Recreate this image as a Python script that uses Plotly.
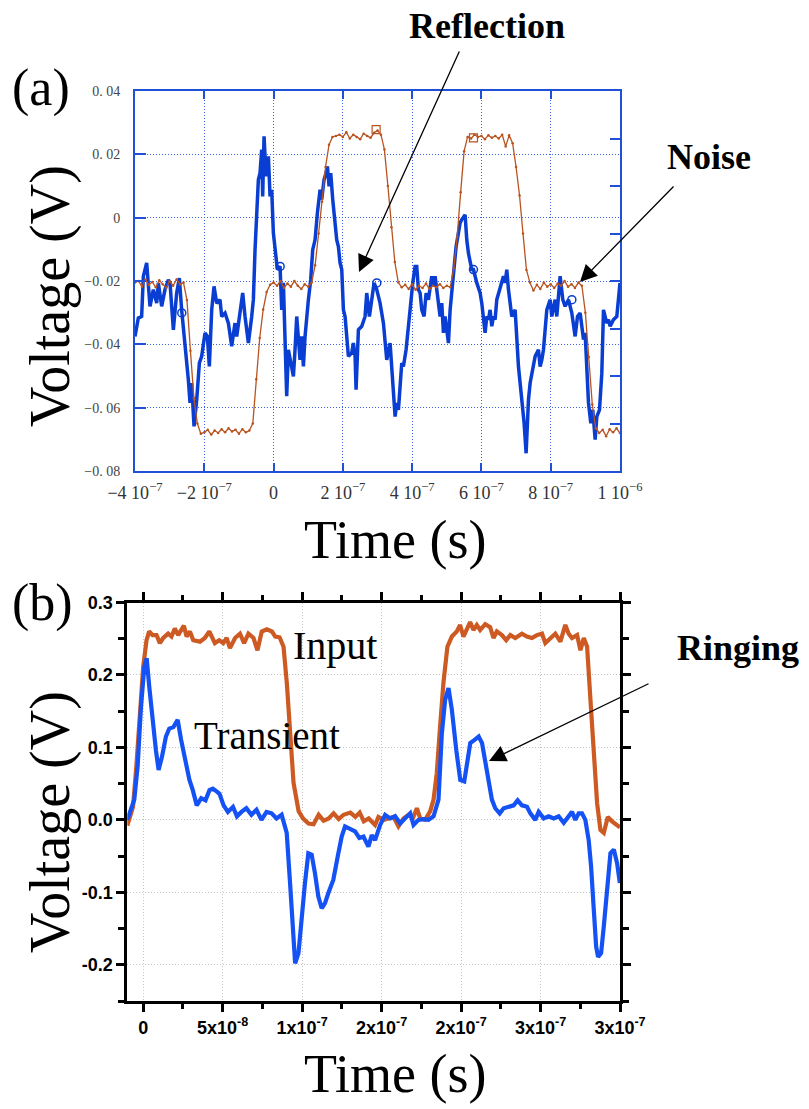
import plotly.graph_objects as go

W, H = 809, 1109


def fx(x):
    return x / W


def fy(y):
    return 1 - y / H


# ---------------- Panel (a) data (time in ns, voltage in V) ----------------
a_brown_t_ns = list(range(-400, 1001, 10))
a_brown_v = [
    -0.0205, -0.0200, -0.0218, -0.0195, -0.0212, -0.0203, -0.0220, -0.0198, -0.0210, -0.0222,
    -0.0200, -0.0215, -0.0195, -0.0210, -0.0205, -0.0260, -0.0420, -0.0570, -0.0650, -0.0682,
    -0.0678, -0.0670, -0.0685, -0.0672, -0.0680, -0.0668, -0.0678, -0.0665, -0.0675, -0.0670,
    -0.0682, -0.0668, -0.0678, -0.0672, -0.0650, -0.0510, -0.0380, -0.0290, -0.0235, -0.0212,
    -0.0205, -0.0215, -0.0200, -0.0222, -0.0208, -0.0218, -0.0200, -0.0215, -0.0225, -0.0210,
    -0.0218, -0.0205, -0.0150, -0.0050, 0.0050, 0.0160, 0.0230, 0.0255, 0.0258, 0.0262,
    0.0255, 0.0270, 0.0250, 0.0262, 0.0255, 0.0248, 0.0265, 0.0258, 0.0252, 0.0268,
    0.0275, 0.0262, 0.0215, 0.0100, -0.0030, -0.0140, -0.0205, -0.0220, -0.0212, -0.0225,
    -0.0210, -0.0228, -0.0215, -0.0222, -0.0208, -0.0225, -0.0215, -0.0220, -0.0210, -0.0222,
    -0.0215, -0.0220, -0.0160, -0.0060, 0.0080, 0.0210, 0.0255, 0.0250, 0.0262, 0.0255,
    0.0258, 0.0248, 0.0260, 0.0252, 0.0258, 0.0250, 0.0262, 0.0225, 0.0260, 0.0235,
    0.0160, 0.0070, -0.0050, -0.0165, -0.0205, -0.0230, -0.0212, -0.0225, -0.0205, -0.0218,
    -0.0210, -0.0222, -0.0208, -0.0215, -0.0200, -0.0218, -0.0210, -0.0222, -0.0205, -0.0215,
    -0.0300, -0.0440, -0.0590, -0.0665, -0.0680, -0.0670, -0.0690, -0.0668, -0.0678, -0.0665,
    -0.0680,
]

a_blue_t_ns = [
    -400, -390.4, -380.8, -375.9, -366.3, -356.7, -347.1, -337.4, -332.6, -323.0,
    -313.4, -303.8, -298.9, -289.3, -279.7, -272.0, -265.3, -255.6, -246.0, -241.2,
    -236.4, -229.6, -221.9, -214.2, -207.5, -197.9, -191.1, -185.4, -178.6, -171.9,
    -164.2, -154.6, -149.8, -140.1, -130.5, -120.9, -111.3, -106.4, -96.8, -89.1,
    -82.4, -72.7, -63.1, -58.3, -53.5, -43.9, -39.1, -34.3, -31.4, -27.5,
    -21.7, -15.0, -10.2, -5.4, -0.6, 4.3, 11.0, 18.7, 23.5, 28.3,
    33.1, 37.9, 42.8, 49.5, 57.2, 62.0, 66.8, 76.4, 81.3, 86.1,
    90.9, 100.5, 107.2, 113.0, 119.8, 126.5, 134.2, 139.0, 145.7, 151.5,
    155.4, 160.2, 165.0, 170.8, 177.5, 182.3, 187.1, 191.9, 196.8, 201.6,
    206.4, 211.2, 216.0, 225.6, 230.4, 235.3, 238.1, 244.9, 254.5, 264.1,
    268.9, 276.6, 283.4, 290.1, 297.8, 307.4, 317.1, 326.7, 336.3, 341.1,
    345.9, 350.8, 355.6, 360.4, 370.0, 374.8, 382.5, 389.3, 394.1, 401.8,
    408.5, 413.3, 418.1, 423.0, 427.8, 434.5, 440.3, 447.0, 456.6, 461.4,
    466.3, 475.9, 480.7, 485.5, 490.3, 495.1, 499.9, 504.8, 509.6, 514.4,
    519.2, 526.9, 533.6, 538.4, 543.3, 548.1, 552.9, 557.7, 562.5, 572.1,
    577.0, 586.6, 596.2, 601.0, 605.8, 610.6, 615.4, 620.3, 625.1, 629.9,
    634.7, 639.5, 644.3, 653.9, 663.6, 668.4, 673.2, 678.0, 687.6, 697.3,
    706.9, 716.5, 723.2, 729.0, 735.8, 740.6, 750.2, 755.0, 764.6, 769.4,
    774.3, 779.1, 788.7, 798.3, 803.1, 812.8, 817.6, 827.2, 834.9, 841.6,
    851.3, 860.9, 870.5, 877.3, 884.9, 894.6, 899.4, 904.2, 909.0, 915.8,
    921.5, 928.3, 933.1, 940.8, 947.5, 952.3, 961.9, 966.8, 971.6, 981.2,
    990.8, 1000.0,
]
a_blue_v = [
    -0.0375, -0.0317, -0.0312, -0.0185, -0.0143, -0.0280, -0.0227, -0.0270, -0.0206, -0.0280,
    -0.0227, -0.0196, -0.0206, -0.0354, -0.0238, -0.0191, -0.0291, -0.0396, -0.0512, -0.0585,
    -0.0522, -0.0659, -0.0575, -0.0459, -0.0438, -0.0364, -0.0375, -0.0470, -0.0291, -0.0217,
    -0.0270, -0.0259, -0.0312, -0.0301, -0.0333, -0.0406, -0.0333, -0.0375, -0.0291, -0.0238,
    -0.0312, -0.0396, -0.0312, -0.0259, -0.0101, 0.0120, 0.0141, 0.0215, 0.0067, 0.0257,
    0.0131, 0.0194, 0.0067, 0.0088, -0.0048, -0.0091, -0.0164, -0.0154, -0.0291, -0.0206,
    -0.0364, -0.0564, -0.0417, -0.0459, -0.0501, -0.0417, -0.0312, -0.0449, -0.0375, -0.0470,
    -0.0375, -0.0259, -0.0196, -0.0101, -0.0070, 0.0015, 0.0088, 0.0057, 0.0120, 0.0141,
    0.0162, 0.0099, 0.0141, 0.0057, -0.0017, -0.0070, -0.0091, -0.0143, -0.0164, -0.0291,
    -0.0312, -0.0396, -0.0438, -0.0427, -0.0396, -0.0438, -0.0543, -0.0354, -0.0343, -0.0312,
    -0.0238, -0.0312, -0.0259, -0.0206, -0.0227, -0.0270, -0.0333, -0.0449, -0.0396, -0.0470,
    -0.0564, -0.0628, -0.0585, -0.0607, -0.0459, -0.0470, -0.0417, -0.0333, -0.0291, -0.0206,
    -0.0154, -0.0154, -0.0227, -0.0238, -0.0291, -0.0312, -0.0238, -0.0259, -0.0185, -0.0217,
    -0.0185, -0.0259, -0.0312, -0.0270, -0.0364, -0.0312, -0.0364, -0.0396, -0.0291, -0.0238,
    -0.0175, -0.0091, -0.0048, -0.0017, -0.0006, 0.0004, 0.0009, -0.0070, -0.0112, -0.0164,
    -0.0164, -0.0206, -0.0238, -0.0270, -0.0312, -0.0364, -0.0312, -0.0322, -0.0291, -0.0343,
    -0.0312, -0.0322, -0.0259, -0.0217, -0.0185, -0.0206, -0.0164, -0.0227, -0.0312, -0.0291,
    -0.0470, -0.0575, -0.0649, -0.0744, -0.0575, -0.0522, -0.0470, -0.0438, -0.0417, -0.0470,
    -0.0449, -0.0417, -0.0291, -0.0259, -0.0312, -0.0259, -0.0312, -0.0185, -0.0259, -0.0280,
    -0.0259, -0.0301, -0.0375, -0.0312, -0.0301, -0.0385, -0.0364, -0.0501, -0.0585, -0.0649,
    -0.0607, -0.0701, -0.0628, -0.0607, -0.0491, -0.0291, -0.0333, -0.0322, -0.0343, -0.0322,
    -0.0312, -0.0206,
]
a_blue_circle_t_ns = [-265, 19, 298, 577, 861]
a_blue_circle_v = [-0.0301, -0.0154, -0.0206, -0.0164, -0.0259]
a_brown_square_t_ns = [296, 577]
a_brown_square_v = [0.0278, 0.0252]

a_xtick_vals = [-4e-7, -2e-7, 0, 2e-7, 4e-7, 6e-7, 8e-7, 1e-6]
a_xtick_text = ["−4 10<sup>−7</sup>", "−2 10<sup>−7</sup>", "0", "2 10<sup>−7</sup>",
                "4 10<sup>−7</sup>", "6 10<sup>−7</sup>", "8 10<sup>−7</sup>", "1 10<sup>−6</sup>"]
a_ytick_vals = [-0.08, -0.06, -0.04, -0.02, 0, 0.02, 0.04]
a_ytick_text = ["−0. 08", "−0. 06", "−0. 04", "−0. 02", "0", "0. 02", "0. 04"]

# ---------------- Panel (b) data (time in ns, voltage in V) ----------------
b_input_t_ns = [
    -10, -6.4, -4.3, -1.8, 0, 2.1, 3.8, 5.9, 8.4, 10.5,
    12.6, 15.7, 17.8, 19.9, 22.0, 25.6, 27.3, 29.4, 31.5, 35.7,
    38.8, 41.6, 45.1, 47.8, 50.4, 52.5, 54.6, 57.8, 60.9, 63.5,
    66.2, 69.4, 71.9, 74.6, 77.8, 81.0, 83.1, 85.8, 88.3, 90.4,
    92.5, 94.6, 97.8, 100.5, 104, 107.2, 110.4, 113.5, 116.7, 119.8,
    123, 126.1, 130.3, 133.5, 136.2, 138.8, 141.9, 145.9, 148, 151.2,
    154.3, 157.5, 160.6, 163.8, 166.9, 170, 172.2, 174.3, 177.4, 180.6,
    182.7, 184.7, 186.8, 188.9, 191.4, 194.2, 197.3, 199.4, 201.5, 203.6,
    205.7, 207.8, 209.9, 212, 215.2, 218.3, 220.4, 222.5, 225.7, 228.4,
    231, 234.1, 238.3, 241.4, 244.6, 247.7, 250.9, 253, 256.2, 259.3,
    262.5, 265.6, 267.7, 269.8, 273, 275.1, 277.2, 279.3, 281.4, 283.5,
    285.6, 287.7, 289.8, 292.3, 295, 299.2, 300,
]
b_input_v = [
    -0.008, 0.018, 0.074, 0.166, 0.211, 0.248, 0.260, 0.255, 0.255, 0.244,
    0.251, 0.257, 0.253, 0.264, 0.255, 0.268, 0.253, 0.260, 0.248, 0.246,
    0.251, 0.260, 0.244, 0.248, 0.244, 0.251, 0.237, 0.251, 0.257, 0.244,
    0.257, 0.251, 0.234, 0.260, 0.263, 0.260, 0.253, 0.252, 0.239, 0.188,
    0.120, 0.051, 0.012, 0.002, -0.005, -0.006, 0.007, -0.001, 0.002, 0.009,
    0.001, 0.007, 0.010, 0.004, 0.010, -0.002, 0.002, -0.007, 0.004, 0.0,
    0.002, 0.004, -0.009, 0.002, 0.007, 0.004, 0.016, 0.002, 0.0, 0.012,
    0.028, 0.064, 0.129, 0.189, 0.239, 0.253, 0.260, 0.269, 0.253, 0.262,
    0.273, 0.262, 0.269, 0.262, 0.270, 0.266, 0.251, 0.260, 0.255, 0.248,
    0.255, 0.251, 0.257, 0.253, 0.251, 0.255, 0.257, 0.244, 0.251, 0.257,
    0.246, 0.269, 0.257, 0.251, 0.255, 0.234, 0.251, 0.239, 0.166, 0.083,
    0.023, -0.014, -0.018, 0.004, -0.002, -0.009, -0.010,
]
b_transient_t_ns = [
    -10, -5.6, -3.5, -1.4, 0.7, 2.2, 3.8, 5.9, 8.0, 9.7,
    11.8, 14.3, 16.4, 19.0, 21.7, 23.8, 27.0, 29.1, 31.2, 33.7,
    36.5, 39.2, 41.7, 43.8, 46.4, 48.0, 50.6, 53.3, 56.5, 59.0,
    61.8, 64.9, 68.1, 71.3, 74.4, 77.6, 80.8, 83.9, 87.1, 89.2,
    90.3, 92.4, 94.1, 95.6, 97.7, 99.7, 101.8, 103.9, 106.0, 108.1,
    110.2, 112.3, 114.4, 116.5, 119.6, 122.8, 124.9, 127.0, 130.2, 133.3,
    136.0, 138.6, 141.7, 143.8, 145.9, 149.1, 152.2, 155.4, 158.5, 161.7,
    164.8, 168.0, 170.1, 173.2, 176.4, 179.5, 182.7, 184.8, 185.8, 187.9,
    190.0, 192.1, 194.2, 197.0, 199.5, 202.0, 204.1, 205.8, 208.3, 211.1,
    213.2, 215.2, 217.3, 219.4, 221.5, 224.3, 226.8, 230.0, 233.1, 235.6,
    238.3, 241.5, 243.6, 246.7, 248.8, 252.0, 255.1, 258.3, 261.4, 264.6,
    266.7, 269.8, 271.9, 274.0, 276.1, 278.2, 280.3, 281.8, 283.5, 285.0,
    286.2, 288.1, 289.8, 291.9, 294.0, 296.1, 298.2, 299.9,
]
b_transient_v = [
    0.0, 0.028, 0.074, 0.156, 0.211, 0.223, 0.184, 0.133, 0.096, 0.069,
    0.087, 0.115, 0.126, 0.128, 0.138, 0.111, 0.078, 0.055, 0.041, 0.020,
    0.030, 0.027, 0.041, 0.043, 0.039, 0.036, 0.020, 0.011, 0.018, 0.005,
    0.011, 0.016, 0.007, 0.014, 0.0, 0.011, 0.009, 0.002, 0.007, -0.010,
    -0.018, -0.087, -0.156, -0.198, -0.184, -0.133, -0.087, -0.046, -0.048, -0.074,
    -0.106, -0.122, -0.115, -0.101, -0.083, -0.046, -0.023, -0.009, -0.012, -0.016,
    -0.025, -0.023, -0.037, -0.021, -0.028, -0.007, 0.007, 0.002, 0.005, -0.005,
    0.002, 0.009, -0.007, 0.0, 0.001, 0.0, 0.005, 0.018, 0.028, 0.119,
    0.166, 0.182, 0.152, 0.096, 0.055, 0.053, 0.087, 0.106, 0.110, 0.115,
    0.106, 0.078, 0.055, 0.028, 0.016, 0.009, 0.016, 0.018, 0.020, 0.027,
    0.020, 0.018, 0.009, 0.0, 0.011, 0.002, 0.005, 0.002, 0.005, -0.004,
    0.002, 0.011, 0.0, 0.009, 0.009, 0.0, -0.028, -0.064, -0.124, -0.175,
    -0.189, -0.184, -0.147, -0.092, -0.046, -0.041, -0.060, -0.087,
]

b_xtick_vals = [0, 5e-8, 1e-7, 1.5e-7, 2e-7, 2.5e-7, 3e-7]
b_xtick_text = ["0", "5x10<sup>-8</sup>", "1x10<sup>-7</sup>", "2x10<sup>-7</sup>",
                "2x10<sup>-7</sup>", "3x10<sup>-7</sup>", "3x10<sup>-7</sup>"]
b_xminor_vals = [2.5e-8, 7.5e-8, 1.25e-7, 1.75e-7, 2.25e-7, 2.75e-7]
b_ytick_vals = [-0.2, -0.1, 0.0, 0.1, 0.2, 0.3]
b_ytick_text = ["-0.2", "-0.1", "0.0", "0.1", "0.2", "0.3"]
b_yminor_vals = [-0.25, -0.15, -0.05, 0.05, 0.15, 0.25]

NS = 1e-9
A_BLUE = "#0a3ed2"
A_BROWN = "#b8531f"
A_AXIS = "#2150d8"
A_GRID = "#3a62e2"
B_BLUE = "#1552f5"
B_ORANGE = "#cc5a22"
SERIF = "Liberation Serif, Times New Roman, serif"
SANS = "Liberation Sans, Arial, sans-serif"

fig = go.Figure()

# panel (a)
fig.add_trace(go.Scatter(
    x=[t * NS for t in a_blue_t_ns], y=a_blue_v, mode="lines",
    line=dict(color=A_BLUE, width=3.5), xaxis="x", yaxis="y",
    showlegend=False, hoverinfo="skip"))
fig.add_trace(go.Scatter(
    x=[t * NS for t in a_brown_t_ns], y=a_brown_v, mode="lines+markers",
    line=dict(color=A_BROWN, width=1.3),
    marker=dict(color=A_BROWN, size=2.5),
    xaxis="x", yaxis="y", showlegend=False, hoverinfo="skip"))
fig.add_trace(go.Scatter(
    x=[t * NS for t in a_blue_circle_t_ns], y=a_blue_circle_v, mode="markers",
    marker=dict(symbol="circle-open", size=8, color=A_BLUE, line=dict(width=1.5)),
    xaxis="x", yaxis="y", showlegend=False, hoverinfo="skip"))
fig.add_trace(go.Scatter(
    x=[t * NS for t in a_brown_square_t_ns], y=a_brown_square_v, mode="markers",
    marker=dict(symbol="square-open", size=8, color=A_BROWN, line=dict(width=1.2)),
    xaxis="x", yaxis="y", showlegend=False, hoverinfo="skip"))
fig.add_trace(go.Scatter(
    x=[-4e-7], y=[0], mode="markers", marker=dict(opacity=0),
    xaxis="x", yaxis="y3", showlegend=False, hoverinfo="skip"))

# panel (b)
fig.add_trace(go.Scatter(
    x=[t * NS for t in b_input_t_ns], y=b_input_v, mode="lines",
    line=dict(color=B_ORANGE, width=4.2), xaxis="x2", yaxis="y2",
    showlegend=False, hoverinfo="skip"))
fig.add_trace(go.Scatter(
    x=[t * NS for t in b_transient_t_ns], y=b_transient_v, mode="lines",
    line=dict(color=B_BLUE, width=4.2), xaxis="x2", yaxis="y2",
    showlegend=False, hoverinfo="skip"))

fig.update_layout(
    width=W, height=H, margin=dict(l=0, r=0, t=0, b=0, autoexpand=False),
    paper_bgcolor="white", plot_bgcolor="white", showlegend=False,
    xaxis=dict(
        domain=[fx(135), fx(620)], anchor="y", range=[-4e-7, 1e-6], automargin=False,
        tickmode="array", tickvals=a_xtick_vals, ticktext=a_xtick_text,
        ticks="inside", ticklen=8, tickwidth=1.5, tickcolor=A_AXIS,
        showline=True, linecolor=A_AXIS, linewidth=2, mirror="ticks",
        showgrid=True, gridcolor=A_GRID, griddash="1px,2px", gridwidth=1, zeroline=False,
        tickfont=dict(family=SERIF, size=18, color="#333333"), ticklabelstandoff=4,
    ),
    yaxis=dict(
        domain=[fy(471), fy(91)], anchor="x", range=[-0.08, 0.04], automargin=False,
        tickmode="array", tickvals=a_ytick_vals, ticktext=a_ytick_text,
        ticks="inside", ticklen=11, tickwidth=1.5, tickcolor=A_AXIS,
        showline=True, linecolor=A_AXIS, linewidth=2, mirror=True,
        showgrid=True, gridcolor=A_GRID, griddash="1px,2px", gridwidth=1, zeroline=False,
        tickfont=dict(family=SERIF, size=14, color="#444444"), ticklabelstandoff=10,
    ),
    yaxis3=dict(
        overlaying="y", anchor="x", side="right", range=[0, 8], automargin=False,
        tickmode="array", tickvals=[1, 2, 3, 4, 5, 6, 7],
        ticks="inside", ticklen=10, tickwidth=1.5, tickcolor=A_AXIS,
        showticklabels=False, showgrid=False, showline=False, zeroline=False,
    ),
    xaxis2=dict(
        domain=[fx(127.3), fx(620)], anchor="y2", range=[-10e-9, 300e-9], automargin=False,
        tickmode="array", tickvals=b_xtick_vals, ticktext=b_xtick_text,
        ticks="outside", ticklen=8, tickwidth=2.5, tickcolor="black",
        minor=dict(tickmode="array", tickvals=b_xminor_vals, ticks="outside",
                   ticklen=5, tickwidth=2.5, tickcolor="black", showgrid=False),
        showline=True, linecolor="black", linewidth=3, mirror="ticks",
        showgrid=True, gridcolor="#c4c4c4", griddash="1px,2px", gridwidth=1, zeroline=False,
        tickfont=dict(family=SANS, size=18, color="black", weight="bold"),
    ),
    yaxis2=dict(
        domain=[fy(1001), fy(602.5)], anchor="x2", range=[-0.25, 0.3], automargin=False,
        tickmode="array", tickvals=b_ytick_vals, ticktext=b_ytick_text,
        ticks="outside", ticklen=8, tickwidth=2.5, tickcolor="black",
        minor=dict(tickmode="array", tickvals=b_yminor_vals, ticks="outside",
                   ticklen=6, tickwidth=2.5, tickcolor="black", showgrid=False),
        showline=True, linecolor="black", linewidth=3, mirror="ticks",
        showgrid=True, gridcolor="#c4c4c4", griddash="1px,2px", gridwidth=1, zeroline=False,
        tickfont=dict(family=SANS, size=18, color="black", weight="bold"),
    ),
)


def label(text, x, y, size, bold=False, angle=0, family=SERIF):
    fig.add_annotation(
        text=text, x=fx(x), y=fy(y), xref="paper", yref="paper",
        xanchor="center", yanchor="middle", showarrow=False, textangle=angle,
        font=dict(family=family, size=size, color="black", weight="bold" if bold else "normal"))


label("(a)", 41, 88, 52)
label("(b)", 42, 603, 52)
label("Voltage (V)", 50, 296, 56, angle=-90)
label("Voltage (V)", 50, 822, 56, angle=-90)
label("Time (s)", 395, 540, 54)
label("Time (s)", 395, 1074, 54)
label("Reflection", 487, 26, 36, bold=True)
label("Noise", 709, 157, 36, bold=True)
label("Ringing", 738, 648, 36, bold=True)
label("Input", 335, 645, 40)
label("Transient", 267, 735, 39)


def arrow(head, tail):
    fig.add_annotation(
        x=fx(head[0]), y=fy(head[1]), xref="paper", yref="paper",
        ax=tail[0] - head[0], ay=tail[1] - head[1], axref="pixel", ayref="pixel",
        text="", showarrow=True, arrowhead=2, arrowsize=2.6, arrowwidth=1.3,
        arrowcolor="black")


arrow((359, 272), (460, 50))
arrow((580, 282), (675, 185))
arrow((489, 761), (650, 683))

fig.write_html("out.html")
